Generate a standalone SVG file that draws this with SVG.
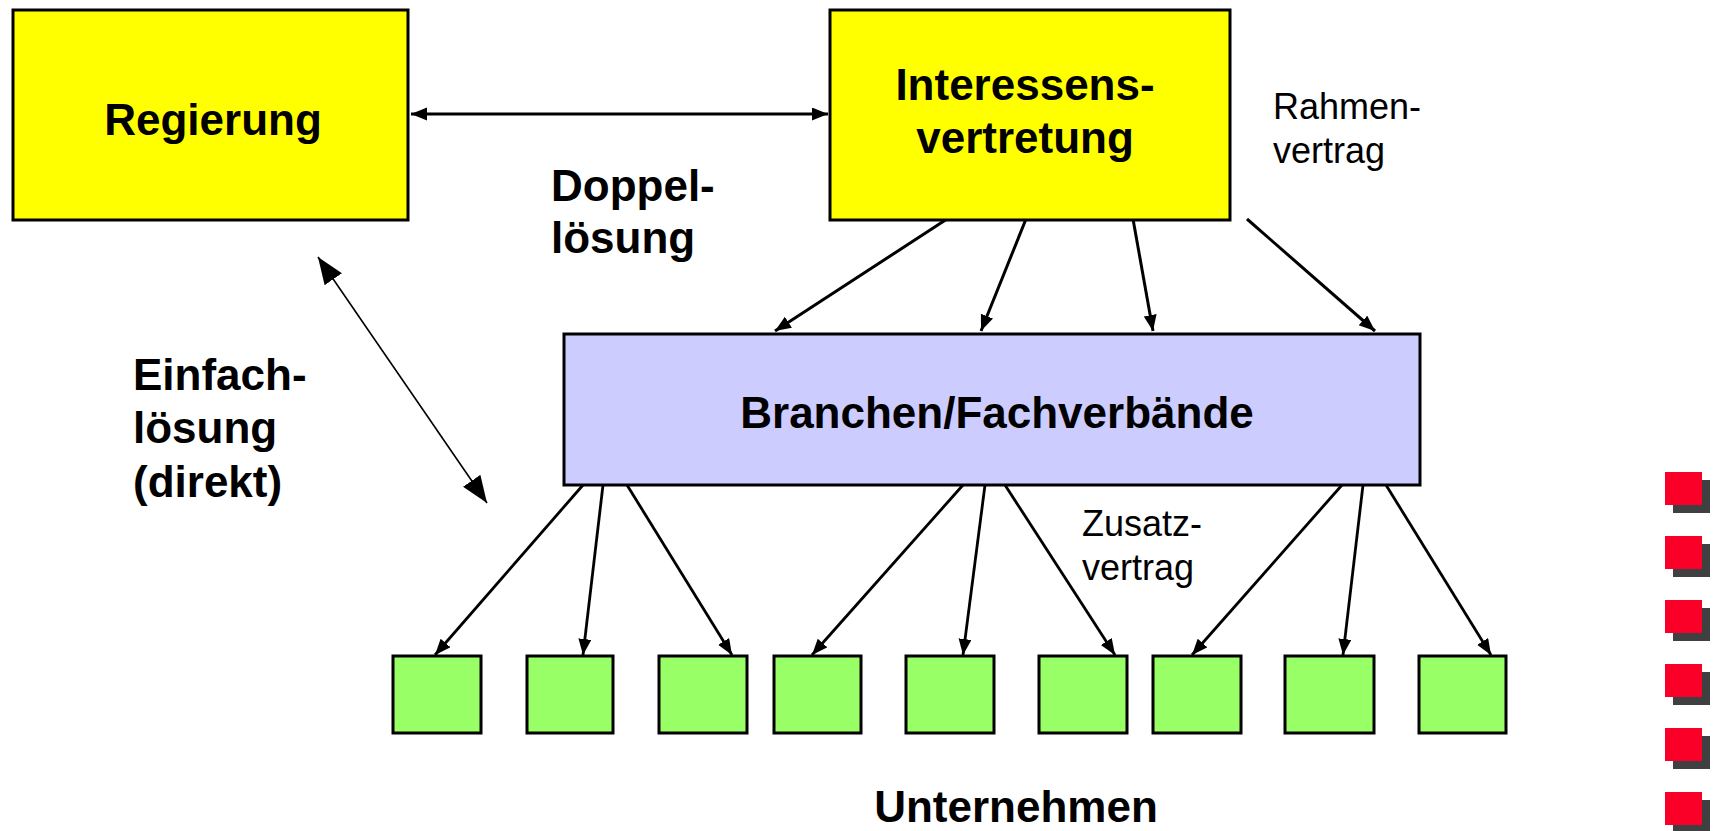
<svg xmlns="http://www.w3.org/2000/svg" width="1714" height="831" viewBox="0 0 1714 831">
<style>
.box{stroke:#000;stroke-width:3}
.yel{fill:#FFFF00}
.lav{fill:#CCCCFF}
.grn{fill:#99FF66}
.bt{font-family:"Liberation Sans",Arial,sans-serif;font-weight:bold;font-size:44px;fill:#000}
.rt{font-family:"Liberation Sans",Arial,sans-serif;font-size:36px;fill:#000}
.c{stroke:#000;stroke-width:3;fill:none;marker-end:url(#ah)}
.c2{stroke:#000;stroke-width:2.8;fill:none;marker-end:url(#ah)}
.bul{fill:#FA0028}
.sh{fill:#404040}
</style>
<defs>
<marker id="ah" markerUnits="userSpaceOnUse" markerWidth="18" markerHeight="14" refX="16" refY="6.5" orient="auto-start-reverse" viewBox="0 0 18 14">
<path d="M0,0 L16,6.5 L0,13 z" fill="#000"/>
</marker>
<marker id="ahl" markerUnits="userSpaceOnUse" markerWidth="28" markerHeight="22" refX="27" refY="10.5" orient="auto-start-reverse" viewBox="0 0 28 22">
<path d="M0,0 L27,10.5 L0,21 z" fill="#000"/>
</marker>
</defs>
<rect width="1714" height="831" fill="#fff"/>

<g id="connectors">
<line x1="411" y1="114" x2="828" y2="114" class="c" style="marker-start:url(#ah)"/>
<line x1="318" y1="257" x2="487" y2="503" stroke="#000" stroke-width="1.6" marker-start="url(#ahl)" marker-end="url(#ahl)"/>
<line x1="947" y1="219" x2="775" y2="331" class="c"/>
<line x1="1026" y1="219" x2="981" y2="331" class="c"/>
<line x1="1133" y1="219" x2="1153" y2="331" class="c"/>
<line x1="1247" y1="219" x2="1375" y2="331" class="c"/>
<line x1="583" y1="485" x2="435" y2="655" class="c2"/>
<line x1="603" y1="485" x2="583" y2="655" class="c2"/>
<line x1="627" y1="485" x2="732" y2="655" class="c2"/>
<line x1="963" y1="485" x2="812" y2="655" class="c2"/>
<line x1="985" y1="485" x2="963" y2="655" class="c2"/>
<line x1="1005" y1="485" x2="1115" y2="655" class="c2"/>
<line x1="1342" y1="485" x2="1192" y2="655" class="c2"/>
<line x1="1363" y1="485" x2="1343" y2="655" class="c2"/>
<line x1="1386" y1="485" x2="1491" y2="655" class="c2"/>
</g>

<g id="regierung">
<rect x="13" y="10" width="395" height="210" class="box yel"/>
<text x="213" y="135" class="bt" text-anchor="middle">Regierung</text>
</g>

<g id="interessensvertretung">
<rect x="830" y="10" width="400" height="210" class="box yel"/>
<text x="1025" y="100" class="bt" text-anchor="middle">Interessens-</text>
<text x="1025" y="153" class="bt" text-anchor="middle">vertretung</text>
</g>

<g id="branchen">
<rect x="564" y="334" width="856" height="151" class="box lav"/>
<text x="997" y="428" class="bt" text-anchor="middle">Branchen/Fachverbände</text>
</g>

<g id="unternehmen">
<rect x="393" y="656" width="88" height="77" class="box grn"/>
<rect x="527" y="656" width="86" height="77" class="box grn"/>
<rect x="659" y="656" width="88" height="77" class="box grn"/>
<rect x="774" y="656" width="87" height="77" class="box grn"/>
<rect x="906" y="656" width="88" height="77" class="box grn"/>
<rect x="1039" y="656" width="88" height="77" class="box grn"/>
<rect x="1153" y="656" width="88" height="77" class="box grn"/>
<rect x="1285" y="656" width="89" height="77" class="box grn"/>
<rect x="1419" y="656" width="87" height="77" class="box grn"/>
<text x="1016" y="822" class="bt" text-anchor="middle">Unternehmen</text>
</g>

<g id="labels">
<text x="551" y="201" class="bt">Doppel-</text>
<text x="551" y="253" class="bt">lösung</text>
<text x="133" y="390" class="bt">Einfach-</text>
<text x="133" y="443" class="bt">lösung</text>
<text x="133" y="497" class="bt">(direkt)</text>
<text x="1273" y="119" class="rt">Rahmen-</text>
<text x="1273" y="163" class="rt">vertrag</text>
<text x="1082" y="536" class="rt">Zusatz-</text>
<text x="1082" y="580" class="rt">vertrag</text>
</g>

<g id="bullets">
<rect x="1673" y="480" width="37" height="33" class="sh"/>
<rect x="1665" y="472" width="37" height="33" class="bul"/>
<rect x="1673" y="544" width="37" height="33" class="sh"/>
<rect x="1665" y="536" width="37" height="33" class="bul"/>
<rect x="1673" y="608" width="37" height="33" class="sh"/>
<rect x="1665" y="600" width="37" height="33" class="bul"/>
<rect x="1673" y="672" width="37" height="33" class="sh"/>
<rect x="1665" y="664" width="37" height="33" class="bul"/>
<rect x="1673" y="736" width="37" height="33" class="sh"/>
<rect x="1665" y="728" width="37" height="33" class="bul"/>
<rect x="1673" y="800" width="37" height="33" class="sh"/>
<rect x="1665" y="792" width="37" height="33" class="bul"/>
</g>
</svg>
